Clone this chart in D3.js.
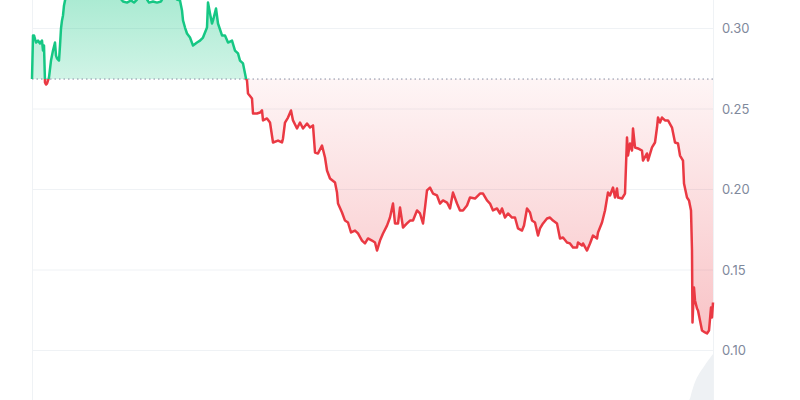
<!DOCTYPE html>
<html>
<head>
<meta charset="utf-8">
<script src="https://cdn.jsdelivr.net/npm/d3@7"></script>
<style>
  html, body { margin: 0; padding: 0; background: #ffffff; }
  svg { display: block; }
  .tick-label { font-family: Inter, "Noto Sans", sans-serif; font-size: 13px; fill: #7f899c; }
</style>
</head>
<body>
<div id="chart"></div>
<script>
// time index (10-minute steps from the start of the window)
let timeIdx = [0, 1, 2, 4, 6, 8, 10, 11, 12, 13, 14, 15, 17, 19, 21, 23, 24, 25, 27, 28, 29, 30, 31, 32, 33,
  36, 42, 48, 55, 62, 70, 78, 85, 88, 91, 95, 99, 102, 105, 108, 112, 115, 117, 121, 125, 129, 131, 135, 140, 145,
  148, 150, 151, 153, 155, 158, 161, 165, 168, 171, 175, 176, 178, 180, 181, 184, 186, 190, 193, 196, 200, 203, 206, 208, 211,
  214, 215, 216, 220, 221, 225, 228, 230, 231, 235, 238, 241, 246, 250, 251, 253, 256, 259, 261, 265, 268, 271, 275, 278, 281,
  283, 286, 290, 293, 295, 298, 303, 305, 306, 310, 313, 316, 319, 323, 326, 330, 333, 336, 340, 343, 345, 348, 351, 355, 358,
  361, 363, 366, 368, 371, 375, 378, 381, 385, 388, 391, 393, 395, 398, 401, 405, 408, 411, 415, 418, 421, 425, 428, 431, 435,
  438, 443, 448, 451, 455, 458, 461, 465, 468, 470, 473, 476, 480, 483, 486, 490, 492, 495, 498, 500, 503, 506, 508, 511, 515,
  518, 521, 525, 528, 531, 535, 538, 541, 545, 546, 550, 551, 555, 558, 561, 565, 566, 570, 573, 576, 578, 581, 583, 585, 586,
  590, 593, 595, 596, 598, 600, 601, 603, 606, 610, 611, 615, 616, 620, 623, 625, 626, 628, 630, 633, 636, 640, 643, 646, 648,
  651, 652, 655, 657, 659, 660, 660.5, 662, 663, 665, 666, 670, 673, 675, 677, 679, 680, 681];

let prices = [0.2686, 0.2957, 0.2957, 0.2913, 0.2925, 0.2907, 0.2925, 0.2863, 0.2894, 0.2665, 0.2652, 0.2658, 0.2696, 0.2801, 0.2863, 0.2913, 0.2832, 0.2814, 0.2801, 0.2894, 0.3000, 0.3050, 0.3081, 0.3143, 0.3174,
  0.3236, 0.3267, 0.3224, 0.3298, 0.3250, 0.3280, 0.3230, 0.3210, 0.3190, 0.3168, 0.3161, 0.3174, 0.3161, 0.3180, 0.3205, 0.3224, 0.3180, 0.3161, 0.3168, 0.3161, 0.3168, 0.3190, 0.3224, 0.3205, 0.3180,
  0.3174, 0.3112, 0.3050, 0.3006, 0.2969, 0.2944, 0.2894, 0.2913, 0.2925, 0.2944, 0.3006, 0.3161, 0.3093, 0.3031, 0.3050, 0.3124, 0.3031, 0.2957, 0.2957, 0.2913, 0.2925, 0.2863, 0.2845, 0.2801, 0.2783,
  0.2689, 0.2677, 0.2596, 0.2565, 0.2472, 0.2472, 0.2478, 0.2491, 0.2429, 0.2441, 0.2416, 0.2292, 0.2304, 0.2292, 0.2317, 0.2416, 0.2447, 0.2491, 0.2429, 0.2379, 0.2416, 0.2379, 0.2410, 0.2385, 0.2398,
  0.2230, 0.2224, 0.2273, 0.2199, 0.2118, 0.2068, 0.2043, 0.1981, 0.1913, 0.1857, 0.1807, 0.1795, 0.1733, 0.1745, 0.1727, 0.1683, 0.1665, 0.1696, 0.1683, 0.1671, 0.1621, 0.1683, 0.1727, 0.1776, 0.1826,
  0.1913, 0.1789, 0.1789, 0.1888, 0.1764, 0.1789, 0.1807, 0.1807, 0.1870, 0.1851, 0.1789, 0.1888, 0.1994, 0.2012, 0.1975, 0.1963, 0.1913, 0.1932, 0.1919, 0.1882, 0.1981, 0.1913, 0.1870, 0.1870, 0.1901,
  0.1950, 0.1944, 0.1975, 0.1975, 0.1932, 0.1913, 0.1870, 0.1882, 0.1851, 0.1882, 0.1826, 0.1851, 0.1826, 0.1826, 0.1758, 0.1745, 0.1776, 0.1882, 0.1857, 0.1807, 0.1795, 0.1714, 0.1758, 0.1789, 0.1820,
  0.1826, 0.1807, 0.1789, 0.1696, 0.1702, 0.1671, 0.1665, 0.1640, 0.1640, 0.1671, 0.1652, 0.1665, 0.1621, 0.1665, 0.1714, 0.1696, 0.1733, 0.1795, 0.1870, 0.1981, 0.1963, 0.2012, 0.1950, 0.2006, 0.1950,
  0.1944, 0.1975, 0.2323, 0.2211, 0.2286, 0.2242, 0.2379, 0.2261, 0.2255, 0.2242, 0.2180, 0.2224, 0.2180, 0.2261, 0.2292, 0.2385, 0.2447, 0.2416, 0.2447, 0.2429, 0.2429, 0.2385, 0.2292, 0.2286, 0.2211,
  0.2180, 0.2037, 0.1950, 0.1932, 0.1870, 0.1621, 0.1174, 0.1391, 0.1311, 0.1261, 0.1248, 0.1124, 0.1112, 0.1106, 0.1124, 0.1267, 0.1205, 0.1298];

// volume (bottom band, only the tail is tall enough to show)
let volIdx = [645, 657, 660, 663, 667, 671, 675, 678, 681];
let volumes = [0, 0, 0.9, 1.8, 2.6, 3.2, 3.8, 4.2, 4.6];

let yTicks = [0.10, 0.15, 0.20, 0.25, 0.30];

let width = 800, height = 400;
let left = 32, right = 713;

let data = timeIdx.map((t, i) => ({ t: t, v: prices[i] }));
let volData = volIdx.map((t, i) => ({ t: t, v: volumes[i] }));
let baseline = prices[0];

let svg = d3.select("#chart").append("svg")
  .attr("width", width)
  .attr("height", height);

let x = d3.scaleLinear().domain([0, d3.max(timeIdx)]).range([left, right]);
let y = d3.scaleLinear().domain([0.10, 0.30]).range([350.5, 28.5]);
let yVol = d3.scaleLinear().domain([0, d3.max(volumes)]).range([height, 354]);
let yBase = y(baseline);

let defs = svg.append("defs");

// stroke colour switches at the baseline
let strokeGrad = defs.append("linearGradient")
  .attr("id", "strokeGrad")
  .attr("gradientUnits", "userSpaceOnUse")
  .attr("x1", 0).attr("x2", 0).attr("y1", 0).attr("y2", height);
strokeGrad.append("stop").attr("offset", yBase / height).attr("stop-color", "#16c784");
strokeGrad.append("stop").attr("offset", yBase / height).attr("stop-color", "#ea3943");

let greenGrad = defs.append("linearGradient")
  .attr("id", "greenFill")
  .attr("gradientUnits", "userSpaceOnUse")
  .attr("x1", 0).attr("x2", 0).attr("y1", 0).attr("y2", yBase);
greenGrad.append("stop").attr("offset", 0).attr("stop-color", "#16c784").attr("stop-opacity", 0.36);
greenGrad.append("stop").attr("offset", 1).attr("stop-color", "#16c784").attr("stop-opacity", 0.2);

let redGrad = defs.append("linearGradient")
  .attr("id", "redFill")
  .attr("gradientUnits", "userSpaceOnUse")
  .attr("x1", 0).attr("x2", 0).attr("y1", yBase).attr("y2", y(d3.min(prices)));
redGrad.append("stop").attr("offset", 0).attr("stop-color", "#ea3943").attr("stop-opacity", 0.05);
redGrad.append("stop").attr("offset", 1).attr("stop-color", "#ea3943").attr("stop-opacity", 0.3);

defs.append("clipPath").attr("id", "clipAbove")
  .append("rect").attr("x", left).attr("y", 0).attr("width", right - left).attr("height", yBase);
defs.append("clipPath").attr("id", "clipBelow")
  .append("rect").attr("x", left).attr("y", yBase).attr("width", right - left).attr("height", height - yBase);

// horizontal grid lines
svg.append("g").selectAll("line")
  .data(yTicks).enter()
  .append("line")
  .attr("x1", left).attr("x2", right)
  .attr("y1", d => y(d)).attr("y2", d => y(d))
  .attr("stroke", "#eff2f5")
  .attr("stroke-width", 1);

// frame lines left and right
svg.append("line").attr("x1", left + 0.5).attr("x2", left + 0.5).attr("y1", 0).attr("y2", height)
  .attr("stroke", "#eff2f5");
svg.append("line").attr("x1", right + 0.5).attr("x2", right + 0.5).attr("y1", 0).attr("y2", height)
  .attr("stroke", "#eff2f5");

// volume band
svg.append("path")
  .datum(volData)
  .attr("fill", "#eef1f4")
  .attr("d", d3.area().curve(d3.curveMonotoneX)
    .x(d => x(d.t)).y0(height).y1(d => yVol(d.v)));

// fills
let area = d3.area()
  .x(d => x(d.t))
  .y0(yBase)
  .y1(d => y(d.v));

svg.append("path").datum(data)
  .attr("clip-path", "url(#clipAbove)")
  .attr("fill", "url(#greenFill)")
  .attr("d", area);

svg.append("path").datum(data)
  .attr("clip-path", "url(#clipBelow)")
  .attr("fill", "url(#redFill)")
  .attr("d", area);

// dotted baseline at the opening price
svg.append("line")
  .attr("x1", left).attr("x2", right)
  .attr("y1", yBase).attr("y2", yBase)
  .attr("stroke", "#858ca2")
  .attr("stroke-width", 1)
  .attr("stroke-dasharray", "1.5,3");

// price line
svg.append("path").datum(data)
  .attr("fill", "none")
  .attr("stroke", "url(#strokeGrad)")
  .attr("stroke-width", 2.5)
  .attr("stroke-linejoin", "round")
  .attr("d", d3.line().x(d => x(d.t)).y(d => y(d.v)));

// right axis labels
let yAxis = d3.axisRight(y).tickValues(yTicks).tickFormat(d3.format(".2f")).tickSize(0).tickPadding(9);
let axisG = svg.append("g").attr("transform", "translate(" + right + ",0)").call(yAxis);
axisG.select(".domain").remove();
axisG.selectAll("text").attr("class", "tick-label").attr("fill", null);
</script>
</body>
</html>
